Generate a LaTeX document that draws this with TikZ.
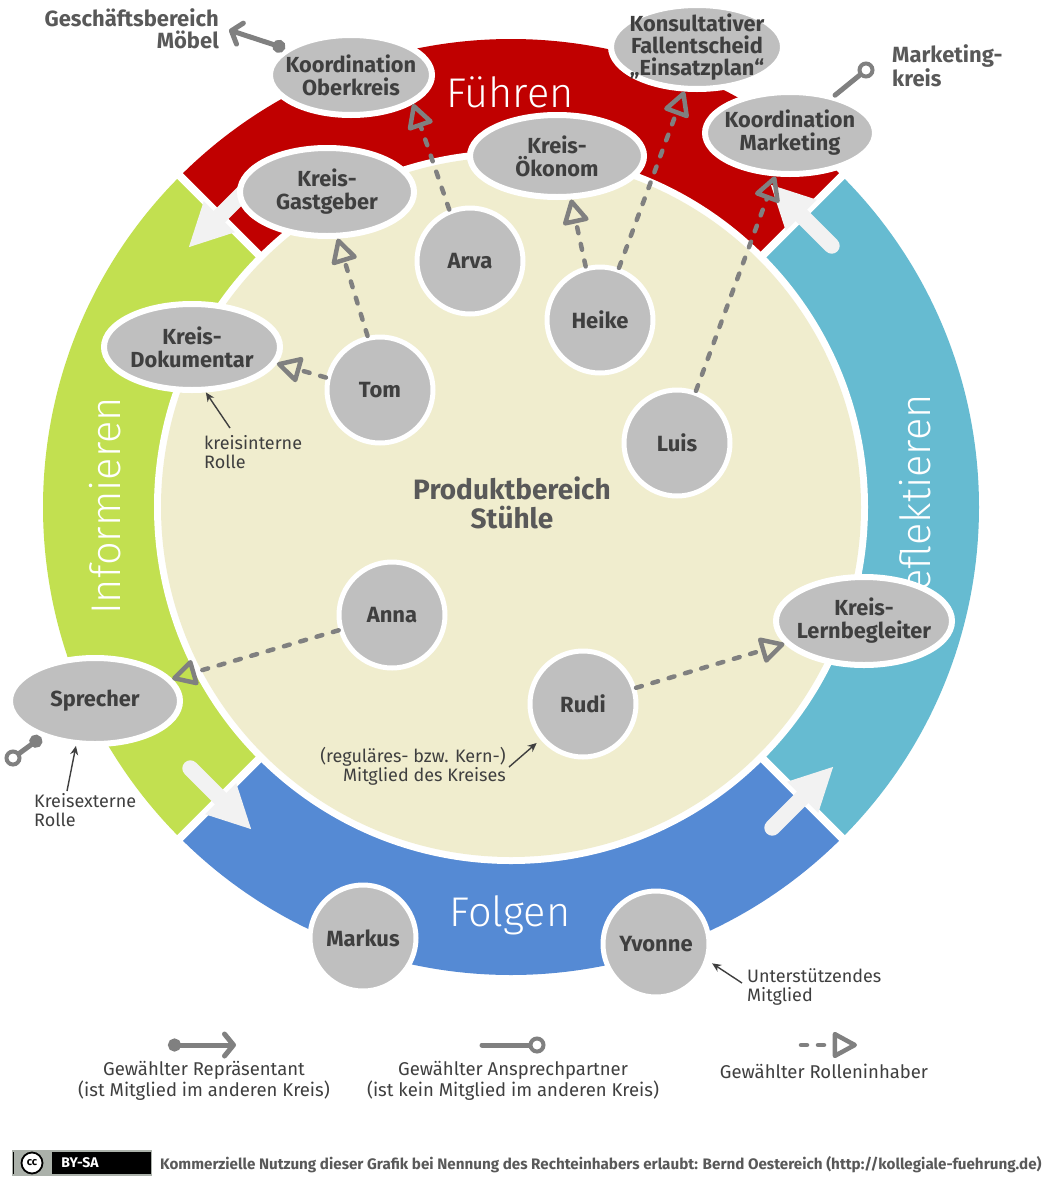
\documentclass[tikz,border=0pt]{standalone}
\usepackage{fontspec}
\setmainfont{Fira Sans}
\newfontfamily\lightfont{Fira Sans Light}
\usetikzlibrary{arrows.meta,shapes.geometric,calc}
\definecolor{ringred}{HTML}{C00000}
\definecolor{ringgreen}{HTML}{C2E050}
\definecolor{ringteal}{HTML}{66BBD1}
\definecolor{ringblue}{HTML}{558AD4}
\definecolor{cream}{HTML}{F0EDCE}
\definecolor{nodegray}{HTML}{BFBFBF}
\definecolor{txtdark}{HTML}{3F3F3F}
\definecolor{txtgray}{HTML}{595959}
\definecolor{linegray}{HTML}{808080}
\definecolor{flowgray}{HTML}{F2F2F2}
\definecolor{ccgray}{HTML}{ABB1AA}
\newcommand\flowarrow[3]{%
  \begin{scope}[shift={(#1,#2)},rotate=#3]
    \fill[flowgray] (-42,-8) -- (1,-8) -- (1,-22) -- (44,0) -- (1,22) -- (1,8) -- (-42,8)
      arc[start angle=90,end angle=270,radius=8] -- cycle;
  \end{scope}}
\begin{document}
\begin{tikzpicture}[x=1pt,y=-1pt,
  role/.style={ellipse, fill=nodegray, draw=white, line width=6pt, inner xsep=-70pt, inner ysep=-30pt,
    align=center, text=txtdark, font=\fontsize{21.8}{23}\selectfont\bfseries},
  person/.style={circle, fill=nodegray, draw=white, line width=5pt, minimum size=106pt, inner sep=0pt,
    text=txtdark, font=\fontsize{22}{23}\selectfont\bfseries},
  ringlabel/.style={text=white, font=\lightfont\fontsize{41.5}{44}\selectfont, inner sep=0pt},
  dasharrow/.style={draw=linegray, line width=4.5pt, dash pattern=on 6pt off 11pt, line cap=round,
    -{Triangle[open,length=27pt,width=28pt,round,line width=4.5pt]}},
  repline/.style={draw=linegray, line width=5pt, line cap=round},
  opencirc/.style={circle, draw=linegray, line width=4pt, fill=white, minimum size=13pt, inner sep=0pt},
  toptext/.style={text=txtgray, font=\fontsize{22}{22}\selectfont\bfseries, inner sep=0pt},
  annottext/.style={text=txtdark, font=\fontsize{18}{19}\selectfont, inner sep=0pt},
  legendtext/.style={text=txtdark, font=\fontsize{18.5}{19}\selectfont, inner sep=0pt, align=center},
  annot/.style={draw=txtdark, line width=1.4pt, -{Stealth[length=9pt,width=8pt]}}
]
\useasboundingbox (0,0) rectangle (1050,1181);
\fill[white] (0,0) rectangle (1050,1181);

% ring
\fill[ringred] (511,507) -- ++(225:468) arc[start angle=225,end angle=315,radius=468] -- cycle;
\fill[ringgreen] (511,507) -- ++(135:468) arc[start angle=135,end angle=225,radius=468] -- cycle;
\fill[ringblue] (511,507) -- ++(45:468) arc[start angle=45,end angle=135,radius=468] -- cycle;
\fill[ringteal] (511,507) -- ++(-45:468) arc[start angle=-45,end angle=45,radius=468] -- cycle;
\foreach \a in {45,135,225,315} \draw[white, line width=8pt] (511,507) -- ++(\a:480);

% flow arrows
\flowarrow{220}{216}{225}
\flowarrow{220}{798}{-45}
\flowarrow{802}{798}{45}
\flowarrow{802}{216}{135}

% inner area
\fill[white] (511,507) circle[radius=357];
\fill[cream] (511,507) circle[radius=350];

% ring labels
\node[ringlabel] (fuehren) at (510,92) {Führen};
\node[ringlabel] (folgen) at (510,915) {Folgen};
\node[ringlabel, rotate=90] (informieren) at (105,506) {Informieren};
\node[ringlabel, rotate=90] (reflektieren) at (915,505) {Reflektieren};

% centre label
\node[text=txtgray, font=\fontsize{28}{29}\selectfont\bfseries, align=center] (bereich) at (512,503) {Produktbereich\\Stühle};

% roles
\node[role, minimum width=162pt, minimum height=80pt] (oberkreis) at (351,75) {Koordination\\Oberkreis};
\node[role, minimum width=174pt, minimum height=88pt] (gastgeber) at (327,192) {Kreis-\\Gastgeber};
\node[role, minimum width=174pt, minimum height=82pt] (oekonom) at (557,156) {Kreis-\\Ökonom};
\node[role, minimum width=172pt, minimum height=84pt, font=\fontsize{21.8}{22}\selectfont\bfseries] (konsult) at (697,47) {Konsultativer\\Fallentscheid\\„Einsatzplan“};
\node[role, minimum width=170pt, minimum height=82pt] (marketing) at (790,133) {Koordination\\Marketing};
\node[role, minimum width=176pt, minimum height=86pt] (dokumentar) at (192,347) {Kreis-\\Dokumentar};
\node[role, minimum width=170pt, minimum height=86pt] (sprecher) at (95,701) {Sprecher};
\node[role, minimum width=176pt, minimum height=88pt] (lernbegleiter) at (864,621) {Kreis-\\Lernbegleiter};

% persons
\node[person] (arva) at (470,261) {Arva};
\node[person] (heike) at (600,320) {Heike};
\node[person] (tom) at (380,390) {Tom};
\node[person] (luis) at (677,443) {Luis};
\node[person] (anna) at (392,615) {Anna};
\node[person] (rudi) at (583,704) {Rudi};
\node[person] (markus) at (363,938) {Markus};
\node[person] (yvonne) at (656,944) {Yvonne};

% role holder arrows
\draw[dasharrow] (arva.112) -- (oberkreis.-25);
\draw[dasharrow] (tom.103) -- (gastgeber.-77);
\draw[dasharrow] (tom.167) -- (dokumentar.-11);
\draw[dasharrow] (heike.105) -- (oekonom.-72);
\draw[dasharrow] (heike.70) -- (konsult.-106);
\draw[dasharrow] (luis.70) -- (marketing.-109);
\draw[dasharrow] (anna.196) -- (sprecher.16);
\draw[dasharrow] (rudi.17) -- (lernbegleiter.196);

% representatives / contacts
\node[toptext, anchor=east, align=right] (gbText) at (219,29) {Geschäftsbereich\\Möbel};
\coordinate (gbEnd) at (229,30);
\draw[repline, {Circle[length=13pt]}-{Straight Barb[length=9pt,width=22pt,round]}] (oberkreis.158) -- (gbEnd);

\node[toptext, anchor=west, align=left] (mkText) at (892,66) {Marketing-\\kreis};
\node[opencirc] (mkCirc) at (866,70) {};
\draw[repline] (marketing.40) -- (mkCirc);

\node[opencirc] (spCirc) at (13,758) {};
\draw[repline, {Circle[length=13pt]}-] (sprecher.214) -- (spCirc);

% annotations
\node[annottext, anchor=north west, align=left] (kiText) at (204,435) {kreisinterne\\Rolle};
\coordinate (kiStart) at (230,428);
\draw[annot] (kiStart) -- (dokumentar.-73);

\node[annottext, anchor=north west, align=left] (keText) at (34,793) {Kreisexterne\\Rolle};
\coordinate (keStart) at (67,791);
\draw[annot] (keStart) -- (sprecher.247);

\node[annottext, anchor=north east, align=right] (mgText) at (506,747) {(reguläres- bzw. Kern-)\\Mitglied des Kreises};
\coordinate (mgStart) at (509,767);
\draw[annot, shorten >=5pt] (mgStart) -- (rudi.220);

\node[annottext, anchor=north west, align=left] (usText) at (747,968) {Unterstützendes\\Mitglied};
\coordinate (usStart) at (742,983);
\draw[annot, shorten >=4pt] (usStart) -- (yvonne.-18);

% legend
\coordinate (l1a) at (168,1045);
\coordinate (l1b) at (236,1045);
\draw[repline, {Circle[length=13pt]}-{Straight Barb[length=9pt,width=22pt,round]}] (l1a) -- (l1b);
\node[legendtext] (l1t) at (204,1081) {Gewählter Repräsentant\\(ist Mitglied im anderen Kreis)};

\coordinate (l2a) at (482,1045);
\node[opencirc] (l2c) at (537,1045) {};
\draw[repline] (l2a) -- (l2c);
\node[legendtext] (l2t) at (513,1081) {Gewählter Ansprechpartner\\(ist kein Mitglied im anderen Kreis)};

\coordinate (l3a) at (801,1045);
\coordinate (l3b) at (857,1045);
\draw[dasharrow] (l3a) -- (l3b);
\node[legendtext] (l3t) at (824,1071) {Gewählter Rolleninhaber};

% footer
\node[draw=ccgray, line width=1.5pt, fill=black, minimum width=139pt, minimum height=24pt, inner sep=0pt] (ccbadge) at (82,1163) {};
\fill[ccgray] (13.5,1151.5) rectangle (52,1174.5);
\node[circle, draw=black, fill=white, line width=1.8pt, minimum size=21pt, inner sep=0pt, font=\fontsize{11}{11}\selectfont\bfseries] (cclogo) at (32,1163) {cc};
\node[text=white, font=\fontsize{14}{14}\selectfont\bfseries, inner sep=0pt] (ccby) at (80,1163) {BY-SA};
\node[anchor=west, text=txtgray, font=\fontsize{15.2}{16}\selectfont\bfseries, inner sep=0pt] (footer) at (160,1165) {Kommerzielle Nutzung dieser Grafik bei Nennung des Rechteinhabers erlaubt: Bernd Oestereich (http://kollegiale-fuehrung.de)};
\end{tikzpicture}
\end{document}
